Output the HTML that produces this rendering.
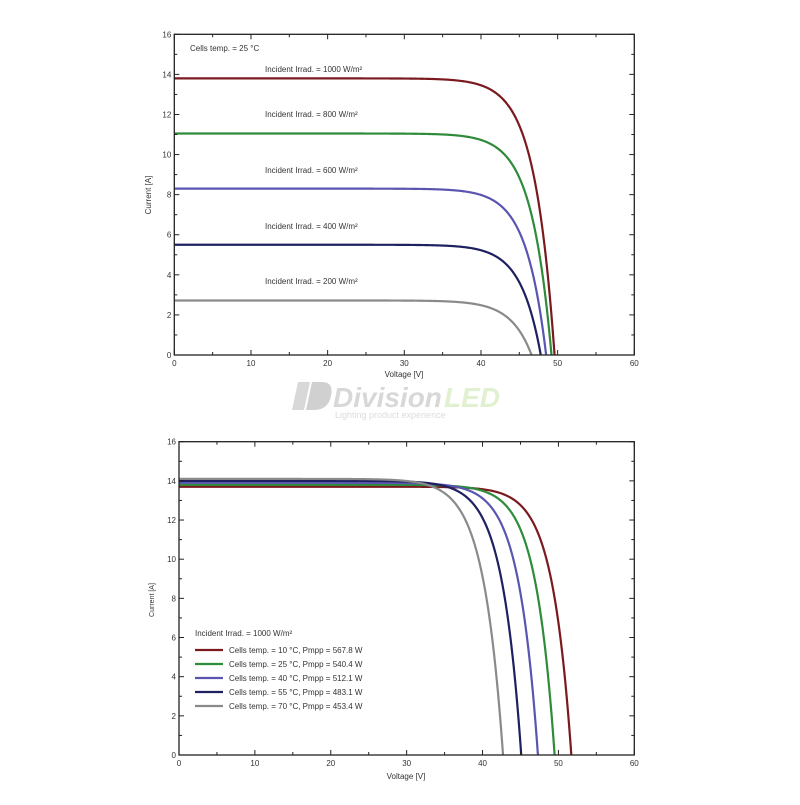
<!DOCTYPE html>
<html><head><meta charset="utf-8"><style>
body{margin:0;background:#fff;width:800px;height:800px;overflow:hidden;font-family:"Liberation Sans",sans-serif}
svg text{font-family:"Liberation Sans",sans-serif;fill:#333}
</style></head><body>
<svg id="s" width="800" height="800" xmlns="http://www.w3.org/2000/svg">
<rect width="800" height="800" fill="#fff"/>
<g>
<path d="M298 382 L310 382 L304 410 L292 410 Z" fill="#d8d8d8"/>
<path d="M312 382 L322 382 Q334 382 331 396 Q328 410 314 410 L306 410 Z" fill="#d0d0d0"/>
<text x="333" y="407" font-size="28" font-weight="bold" font-style="italic" style="fill:#d8d8d8">Division</text>
<text x="444" y="407" font-size="28" font-weight="bold" font-style="italic" style="fill:#e0f0d0">LED</text>
<text x="335" y="418" font-size="9" style="fill:#dcdcdc">Lighting product experience</text>
</g>
<g id="c1"></g><g id="c2"></g>
</svg>
<script>
const NS="http://www.w3.org/2000/svg";
function el(p,t,a,txt){const e=document.createElementNS(NS,t);for(const k in a)e.setAttribute(k,a[k]);if(txt!==undefined)e.textContent=txt;p.appendChild(e);return e;}
function chart(g,x0,x1,y0,y1,curves){
 const sx=v=>x0+(x1-x0)*v/60, sy=i=>y0-(y0-y1)*i/16;
 for(const c of curves){
  let d="";const a=c.a;
  for(let v=0;v<=c.voc;v+=0.1){
   let f=(Math.exp((v-c.voc)/a)-Math.exp(-c.voc/a))/(1-Math.exp(-c.voc/a));
   let I=c.isc*(1-f); if(I<0)I=0;
   d+=(d?"L":"M")+sx(v).toFixed(2)+" "+sy(I).toFixed(2);
  }
  d+="L"+sx(c.voc).toFixed(2)+" "+sy(0);
  el(g,"path",{d:d,fill:"none",stroke:c.col,"stroke-width":2.2});
 }
 el(g,"rect",{x:x0,y:y1,width:x1-x0,height:y0-y1,fill:"none",stroke:"#222","stroke-width":1.3});
 for(let v=0;v<=60;v+=5){const x=sx(v),L=v%10?3:5;
  el(g,"line",{x1:x,y1:y0,x2:x,y2:y0-L,stroke:"#222"});
  el(g,"line",{x1:x,y1:y1,x2:x,y2:y1+L,stroke:"#222"});
  if(v%10==0)el(g,"text",{x:x,y:y0+11,"font-size":8,"text-anchor":"middle"},v);}
 for(let i=0;i<=16;i++){const y=sy(i),L=i%2?3:5;
  el(g,"line",{x1:x0,y1:y,x2:x0+L,y2:y,stroke:"#222"});
  el(g,"line",{x1:x1,y1:y,x2:x1-L,y2:y,stroke:"#222"});
  if(i%2==0)el(g,"text",{x:x0-3,y:y+3,"font-size":8,"text-anchor":"end"},i);}
 return {sx,sy};
}
const R="#7a1a1f",G="#2e8b3a",P="#5a55b0",N="#1e2060",Y="#8a8a8a";
const g1=document.getElementById("c1"),g2=document.getElementById("c2");
chart(g1,174.3,634.3,355,34.3,[
 {isc:13.8,voc:49.6,a:2.6,col:R},{isc:11.05,voc:49.2,a:2.6,col:G},
 {isc:8.3,voc:48.5,a:2.6,col:P},{isc:5.5,voc:47.8,a:2.6,col:N},{isc:2.72,voc:46.6,a:2.7,col:Y}]);
el(g1,"text",{x:190,y:51,"font-size":8},"Cells temp. = 25 °C");
[[1000,81],[800,126],[600,182],[400,238],[200,293]].forEach(([w,y])=>el(g1,"text",{x:265,y:y-9,"font-size":8},"Incident Irrad. = "+w+" W/m²"));
el(g1,"text",{x:404,y:377,"font-size":8,"text-anchor":"middle"},"Voltage [V]");
el(g1,"text",{x:151,y:195,"font-size":8,"text-anchor":"middle",transform:"rotate(-90 151 195)"},"Current  [A]");
chart(g2,179,634.3,755,441.7,[
 {isc:13.7,voc:51.7,a:2.5,col:R},{isc:13.8,voc:49.5,a:2.5,col:G},
 {isc:13.9,voc:47.3,a:2.55,col:P},{isc:14.0,voc:45.1,a:2.55,col:N},{isc:14.1,voc:42.7,a:2.6,col:Y}]);
el(g2,"text",{x:195,y:636,"font-size":8},"Incident Irrad. = 1000 W/m²");
[[R,"10","567.8"],[G,"25","540.4"],[P,"40","512.1"],[N,"55","483.1"],[Y,"70","453.4"]].forEach((r,k)=>{const y=650+k*14;
 el(g2,"line",{x1:195,y1:y,x2:223,y2:y,stroke:r[0],"stroke-width":2.2});
 el(g2,"text",{x:229,y:y+3,"font-size":8},"Cells temp. = "+r[1]+" °C,  Pmpp = "+r[2]+" W");});
el(g2,"text",{x:406,y:779,"font-size":8,"text-anchor":"middle"},"Voltage  [V]");
el(g2,"text",{x:154,y:600,"font-size":7,"text-anchor":"middle",transform:"rotate(-90 154 600)"},"Current       [A]");
</script>
</body></html>
